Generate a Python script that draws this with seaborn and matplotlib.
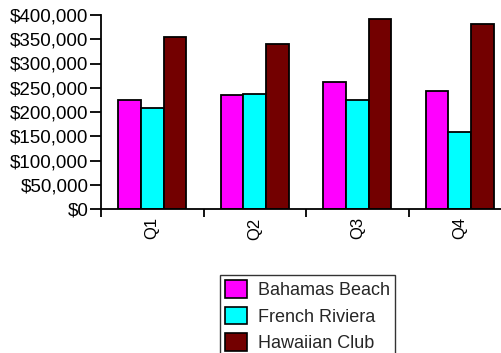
import matplotlib
matplotlib.use("Agg")
import matplotlib.pyplot as plt
import seaborn as sns
import pandas as pd
from matplotlib.ticker import FuncFormatter, FixedLocator
from matplotlib.patches import Patch

quarters = ["Q1", "Q2", "Q3", "Q4"]
series = ["Bahamas Beach", "French Riviera", "Hawaiian Club"]
bahamas = [225000, 236000, 262000, 243000]
french = [208000, 238000, 225000, 158000]
hawaiian = [354000, 340000, 392000, 382000]
colors = ["#FF00FF", "#00FFFF", "#730000"]

rows = []
for name, vals in zip(series, [bahamas, french, hawaiian]):
    for q, v in zip(quarters, vals):
        rows.append({"Quarter": q, "Resort": name, "Sales": v})
df = pd.DataFrame(rows)

sns.set_theme(style="white")
plt.rcParams["font.family"] = ["Liberation Sans", "DejaVu Sans"]

fig = plt.figure(figsize=(5.01, 3.53), dpi=100)
ax = fig.add_axes([101/501, 144/353, 410/501, 194/353])

sns.barplot(data=df, x="Quarter", y="Sales", hue="Resort", order=quarters,
            hue_order=series, palette=colors, width=0.66, gap=0,
            edgecolor="black", linewidth=1.3, saturation=1, ax=ax, legend=False)

ax.set_xlim(-0.5, 3.5)
ax.set_ylim(0, 400000)
ax.set_xlabel("")
ax.set_ylabel("")
for s in ["top", "right"]:
    ax.spines[s].set_visible(False)
for s in ["left", "bottom"]:
    ax.spines[s].set_color("black")
    ax.spines[s].set_linewidth(1.3)

ax.yaxis.set_major_locator(FixedLocator(list(range(0, 400001, 50000))))
ax.yaxis.set_major_formatter(FuncFormatter(lambda v, p: f"${int(v):,}"))
ax.tick_params(axis="y", which="major", left=True, length=8, width=1.3,
               color="black", pad=1, labelsize=13.5, labelcolor="black")

ax.set_xticks([-0.5, 0.5, 1.5, 2.5])
ax.set_xticklabels(["", "", "", ""])
ax.set_xticks([0, 1, 2, 3], minor=True)
ax.set_xticklabels(quarters, minor=True, rotation=90, va="top")
ax.tick_params(axis="x", which="major", bottom=True, length=6, width=1.3, color="black")
ax.tick_params(axis="x", which="minor", bottom=True, length=0, pad=6,
               labelsize=12, labelcolor="black")

handles = [Patch(facecolor=c, edgecolor="black", linewidth=1.2) for c in colors]
leg = fig.legend(handles, series, loc="upper left",
                 bbox_to_anchor=(220/501, 1 - 275/353), fontsize=13,
                 frameon=True, fancybox=False, shadow=False,
                 handlelength=1.2, handleheight=1.1, handletextpad=0.6,
                 labelspacing=0.42, borderpad=0.3, borderaxespad=0)
leg.get_frame().set_edgecolor("black")
leg.get_frame().set_linewidth(1.0)

fig.savefig("out.png", dpi=100)
